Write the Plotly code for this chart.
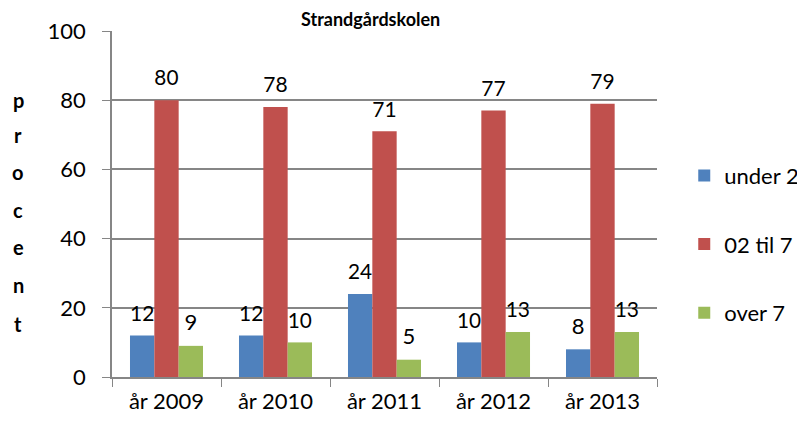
import plotly.graph_objects as go

categories = ["år 2009", "år 2010", "år 2011", "år 2012", "år 2013"]
under_2 = [12, 12, 24, 10, 8]
til_7 = [80, 78, 71, 77, 79]
over_7 = [9, 10, 5, 13, 13]
series_names = ["under 2", "02 til 7", "over 7"]
colors = ["#4F81BD", "#C0504D", "#9BBB59"]
axis_label = "procent"

FONT = "Lato, Open Sans, sans-serif"

# page body has an 8px default margin; size the figure to fit the window
W, H = 797, 417
L, R, T, B = 104, 148, 23, 48
PH = H - T - B

fig = go.Figure()
for i, (name, vals, col) in enumerate(zip(series_names, [under_2, til_7, over_7], colors)):
    fig.add_trace(go.Bar(
        x=categories, y=vals, name=name, marker_color=col,
        marker_line_width=0,
        text=[f"<span style='font-size:22px'>{v}</span><br> " for v in vals],
        textposition="outside",
        textfont=dict(size=8, color="#000000", family=FONT),
        cliponaxis=False, legendgroup=f"g{i}",
    ))

fig.update_layout(
    width=W, height=H,
    margin=dict(l=L, r=R, t=T, b=B, autoexpand=False),
    paper_bgcolor="white", plot_bgcolor="white",
    barmode="group", bargap=0.33, bargroupgap=0,
    uniformtext=dict(mode=False),
    font=dict(family=FONT, size=22, color="#000000"),
    title=dict(text="<b>Strandgårdskolen</b>", x=0.455, xanchor="center",
               y=0.971, yanchor="middle", font=dict(size=18, family=FONT)),
    legend=dict(x=1.05, xanchor="left", y=0.384, yanchor="middle",
                font=dict(size=22, family=FONT), tracegroupgap=37,
                itemwidth=30),
    showlegend=True,
)
fig.update_xaxes(
    showline=True, linecolor="#868686", linewidth=1.5,
    ticks="outside", tickson="boundaries", ticklen=8, tickcolor="#868686",
    tickfont=dict(size=22, family=FONT), ticklabelstandoff=4,
)
fig.update_yaxes(
    range=[0, 100], dtick=20, showgrid=True, gridcolor="#868686", gridwidth=1.5,
    showline=True, linecolor="#868686", linewidth=1.5,
    ticks="outside", ticklen=8, tickcolor="#868686",
    tickfont=dict(size=22, family=FONT), zeroline=False, ticklabelstandoff=12,
)
# vertically stacked axis title letters
letter_y_px = [100, 135, 172, 210, 247, 285, 324]  # page pixel centres
for ch, ypx in zip(axis_label, letter_y_px):
    fig.add_annotation(
        text=f"<b>{ch}</b>", xref="paper", yref="paper",
        x=(10 - L) / (W - L - R), y=(H - B - (ypx - 8)) / PH,
        xanchor="center", yanchor="middle", showarrow=False,
        font=dict(size=20, family=FONT, color="#000000"),
    )
fig.write_html("out.html")
